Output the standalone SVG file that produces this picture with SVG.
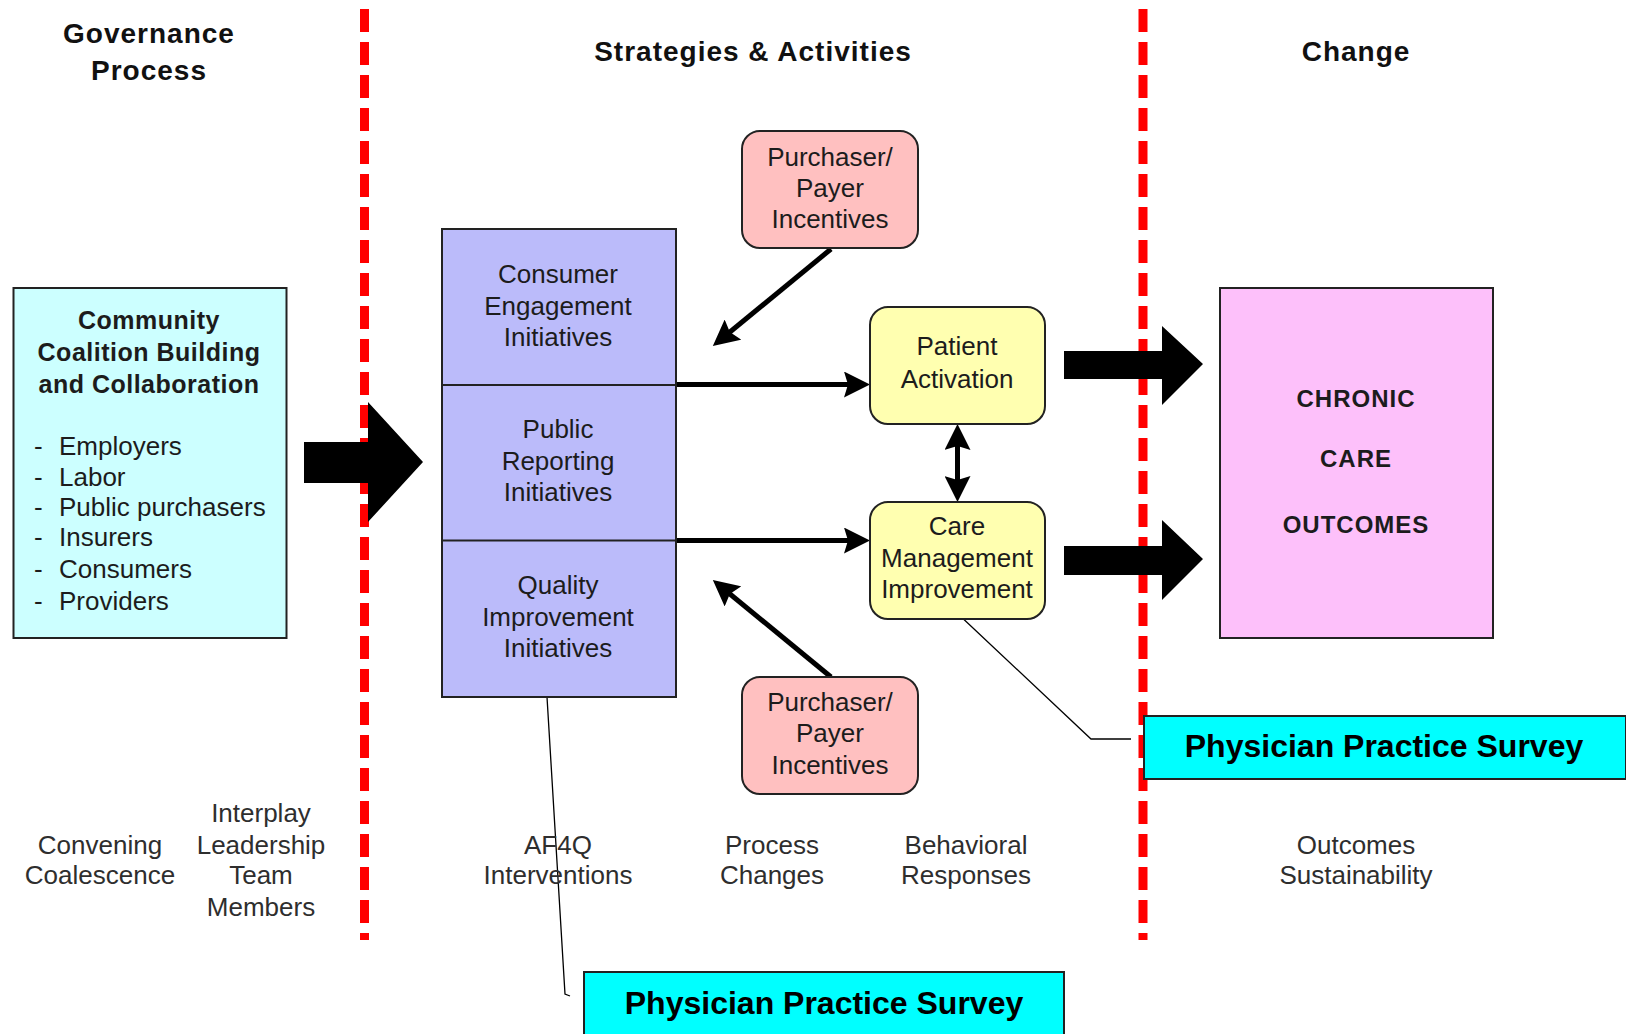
<svg xmlns="http://www.w3.org/2000/svg" width="1626" height="1034" viewBox="0 0 1626 1034">
  <style>
    text { font-family: "Liberation Sans", Arial, sans-serif; fill: #1c1c1c; }
    .hdr { font-size: 28px; font-weight: bold; letter-spacing: 1px; text-anchor: middle; fill: #111; }
    .lbl { font-size: 26px; text-anchor: middle; }
    .lst { font-size: 26px; }
    .ttl { font-size: 25px; font-weight: bold; letter-spacing: 0.5px; text-anchor: middle; }
    .out { font-size: 24px; font-weight: bold; letter-spacing: 1px; text-anchor: middle; }
    .pps { font-size: 32px; font-weight: bold; text-anchor: middle; fill: #000; }
    .foot { font-size: 26px; text-anchor: middle; fill: #2e2e2e; }
    .box { stroke: #222; stroke-width: 2; }
    .divider { stroke: #333; stroke-width: 8; stroke-dasharray: 23 10; }
    .red { stroke: #ff0000; stroke-width: 9; stroke-dasharray: 23 10; fill: none; }
    .conn { stroke: #000; stroke-width: 5; fill: none; }
    .lead { stroke: #000; stroke-width: 1.3; fill: none; }
    .block { fill: #000; }
  </style>
  <defs>
    <marker id="head" viewBox="0 0 26 26" refX="18" refY="13" markerWidth="26" markerHeight="26" markerUnits="userSpaceOnUse" orient="auto-start-reverse">
      <path d="M0,0 L26,13 L0,26 L4,13 z" fill="#000"/>
    </marker>
  </defs>

  <rect width="1626" height="1034" fill="#fff"/>

  <!-- column separators -->
  <g id="separators">
    <line class="red" x1="364.5" y1="9" x2="364.5" y2="940"/>
    <line class="red" x1="1143" y1="9" x2="1143" y2="940"/>
  </g>

  <!-- column headings -->
  <g id="headings">
    <text class="hdr" x="149" y="43">Governance</text>
    <text class="hdr" x="149" y="80">Process</text>
    <text class="hdr" x="753" y="61">Strategies &amp; Activities</text>
    <text class="hdr" x="1356" y="61">Change</text>
  </g>

  <!-- connectors -->
  <g id="connectors">
    <!-- block arrows -->
    <polygon class="block" points="304,442 368,442 368,402 423,462 368,522 368,483 304,483"/>
    <polygon class="block" points="1064,351 1162,351 1162,326 1203,364 1162,405 1162,379 1064,379"/>
    <polygon class="block" points="1064,546 1162,546 1162,520 1203,559 1162,600 1162,575 1064,575"/>
    <!-- initiatives to outcomes -->
    <line class="conn" x1="675" y1="384.5" x2="862" y2="384.5" marker-end="url(#head)"/>
    <line class="conn" x1="675" y1="540.5" x2="862" y2="540.5" marker-end="url(#head)"/>
    <!-- patient activation <-> care management -->
    <line class="conn" x1="957.5" y1="432" x2="957.5" y2="494" marker-start="url(#head)" marker-end="url(#head)"/>
    <!-- incentives -->
    <line class="conn" x1="831" y1="249" x2="719" y2="341" marker-end="url(#head)"/>
    <line class="conn" x1="831" y1="677" x2="719" y2="585" marker-end="url(#head)"/>
    <!-- survey leaders -->
    <polyline class="lead" points="956,612 1091,739 1131,739"/>
    <polyline class="lead" points="547,697 565,994 570,996"/>
  </g>

  <g id="coalition">
    <rect class="box" x="13.5" y="288" width="273" height="350" fill="#ccffff"/>
    <text class="ttl" x="149" y="329">Community</text>
    <text class="ttl" x="149" y="361">Coalition Building</text>
    <text class="ttl" x="149" y="393">and Collaboration</text>
    <g class="lst">
      <text x="34" y="455">-</text><text x="59" y="455">Employers</text>
      <text x="34" y="486">-</text><text x="59" y="486">Labor</text>
      <text x="34" y="516">-</text><text x="59" y="516">Public purchasers</text>
      <text x="34" y="546">-</text><text x="59" y="546">Insurers</text>
      <text x="34" y="578">-</text><text x="59" y="578">Consumers</text>
      <text x="34" y="610">-</text><text x="59" y="610">Providers</text>
    </g>
  </g>

  <g id="initiatives">
    <rect class="box" x="442" y="229" width="234" height="468" fill="#bbbbfa"/>
    <line class="box" x1="442" y1="385" x2="676" y2="385"/>
    <line class="box" x1="442" y1="540.5" x2="676" y2="540.5"/>
    <text class="lbl" x="558" y="283">Consumer</text>
    <text class="lbl" x="558" y="315">Engagement</text>
    <text class="lbl" x="558" y="346">Initiatives</text>
    <text class="lbl" x="558" y="438">Public</text>
    <text class="lbl" x="558" y="470">Reporting</text>
    <text class="lbl" x="558" y="501">Initiatives</text>
    <text class="lbl" x="558" y="594">Quality</text>
    <text class="lbl" x="558" y="626">Improvement</text>
    <text class="lbl" x="558" y="657">Initiatives</text>
  </g>

  <g id="incentives-top">
    <rect class="box" x="742" y="131" width="176" height="117" rx="18" fill="#ffc0c0"/>
    <text class="lbl" x="830" y="166">Purchaser/</text>
    <text class="lbl" x="830" y="197">Payer</text>
    <text class="lbl" x="830" y="228">Incentives</text>
  </g>

  <g id="incentives-bottom">
    <rect class="box" x="742" y="677" width="176" height="117" rx="18" fill="#ffc0c0"/>
    <text class="lbl" x="830" y="711">Purchaser/</text>
    <text class="lbl" x="830" y="742">Payer</text>
    <text class="lbl" x="830" y="774">Incentives</text>
  </g>

  <g id="patient-activation">
    <rect class="box" x="870" y="307" width="175" height="117" rx="18" fill="#ffffb0"/>
    <text class="lbl" x="957" y="355">Patient</text>
    <text class="lbl" x="957" y="388">Activation</text>
  </g>

  <g id="care-management">
    <rect class="box" x="870" y="502" width="175" height="117" rx="18" fill="#ffffb0"/>
    <text class="lbl" x="957" y="535">Care</text>
    <text class="lbl" x="957" y="567">Management</text>
    <text class="lbl" x="957" y="598">Improvement</text>
  </g>

  <g id="outcomes">
    <rect class="box" x="1220" y="288" width="273" height="350" fill="#fdc0fa"/>
    <text class="out" x="1356" y="407">CHRONIC</text>
    <text class="out" x="1356" y="467">CARE</text>
    <text class="out" x="1356" y="533">OUTCOMES</text>
  </g>

  <g id="survey-right">
    <rect class="box" x="1144" y="716" width="482" height="63" fill="#00ffff"/>
    <text class="pps" x="1384" y="757">Physician Practice Survey</text>
  </g>

  <g id="survey-bottom">
    <rect class="box" x="584" y="972" width="480" height="70" fill="#00ffff"/>
    <text class="pps" x="824" y="1014">Physician Practice Survey</text>
  </g>

  <!-- stage captions -->
  <g id="captions">
    <text class="foot" x="100" y="854">Convening</text>
    <text class="foot" x="100" y="884">Coalescence</text>
    <text class="foot" x="261" y="822">Interplay</text>
    <text class="foot" x="261" y="854">Leadership</text>
    <text class="foot" x="261" y="884">Team</text>
    <text class="foot" x="261" y="916">Members</text>
    <text class="foot" x="558" y="854">AF4Q</text>
    <text class="foot" x="558" y="884">Interventions</text>
    <text class="foot" x="772" y="854">Process</text>
    <text class="foot" x="772" y="884">Changes</text>
    <text class="foot" x="966" y="854">Behavioral</text>
    <text class="foot" x="966" y="884">Responses</text>
    <text class="foot" x="1356" y="854">Outcomes</text>
    <text class="foot" x="1356" y="884">Sustainability</text>
  </g>
</svg>
